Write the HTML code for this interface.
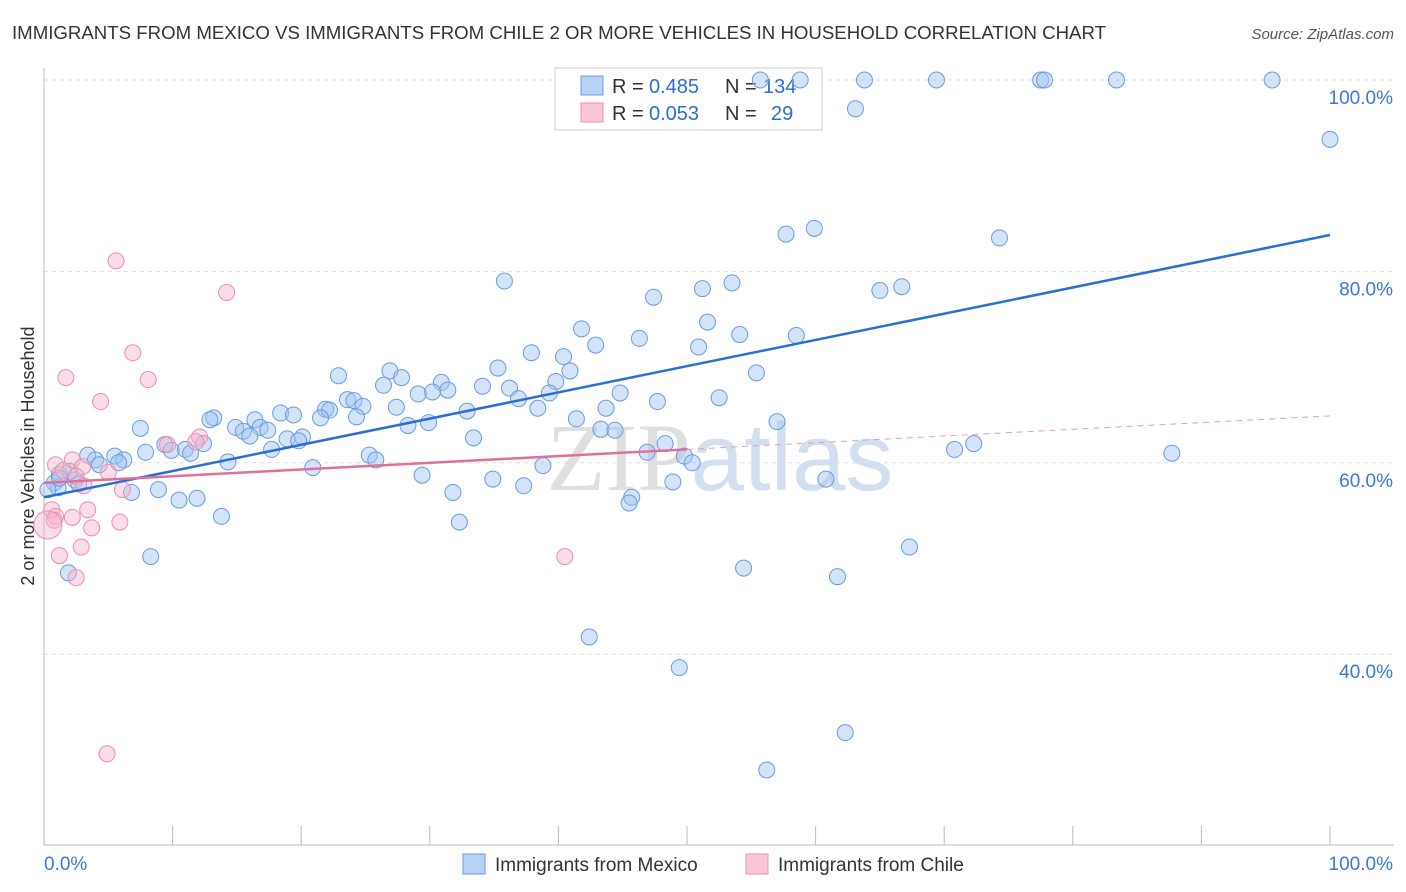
<!DOCTYPE html>
<html><head><meta charset="utf-8"><style>
body{margin:0;background:#fff;font-family:"Liberation Sans",sans-serif;}
#wrap{position:relative;width:1406px;height:892px;overflow:hidden;}
</style></head><body>
<div id="wrap">
<svg id="svg" width="1406" height="892" xmlns="http://www.w3.org/2000/svg" style="position:absolute;left:0;top:0">
<text x="12" y="39" font-size="18" fill="#333" textLength="1094" lengthAdjust="spacingAndGlyphs">IMMIGRANTS FROM MEXICO VS IMMIGRANTS FROM CHILE 2 OR MORE VEHICLES IN HOUSEHOLD CORRELATION CHART</text>
<text x="1394" y="39" font-size="15" fill="#555" font-style="italic" text-anchor="end">Source: ZipAtlas.com</text>
<text x="720" y="490" font-size="96" fill="#d8d8d8" text-anchor="middle" font-family="Liberation Serif" opacity="0.8">ZIP<tspan fill="#c8d8ee" font-family="Liberation Sans">atlas</tspan></text>
<text transform="translate(34,456) rotate(-90)" font-size="18" fill="#333" text-anchor="middle">2 or more Vehicles in Household</text>
<g id="grid"></g><g id="axes"></g>
<g>
<rect x="555" y="68" width="267" height="62" fill="#fff" stroke="#ccc"/>
<rect x="581" y="76" width="22" height="19" fill="#b8d2f4" stroke="#6a9be0"/>
<rect x="581" y="103" width="22" height="19" fill="#f9c6d6" stroke="#e890b0"/>
<text x="612" y="93" font-size="20" fill="#333">R =</text><text x="649" y="93" font-size="20" fill="#2a6fd6">0.485</text>
<text x="725" y="93" font-size="20" fill="#333">N =</text><text x="763" y="93" font-size="20" fill="#2a6fd6">134</text>
<text x="612" y="120" font-size="20" fill="#333">R =</text><text x="649" y="120" font-size="20" fill="#2a6fd6">0.053</text>
<text x="725" y="120" font-size="20" fill="#333">N =</text><text x="771" y="120" font-size="20" fill="#2a6fd6">29</text>
</g>
<g id="marks"></g><g id="trend"></g>
<g>
<rect x="463" y="854" width="22" height="20" fill="#b8d2f4" stroke="#6a9be0"/>
<text x="495" y="871" font-size="19" fill="#333">Immigrants from Mexico</text>
<rect x="746" y="854" width="22" height="20" fill="#f9c6d6" stroke="#e890b0"/>
<text x="778" y="871" font-size="19" fill="#333">Immigrants from Chile</text>
</g>
</svg>
</div>
<script>
const mexX=[55.7,58.8,63.8,69.4,77.5,77.8,83.4,95.5,63.1,100,57.7,59.9,74.3,35.8,47.4,51.2,53.5,65.0,66.7,51.6,41.8,46.3,54.1,58.5,42.9,50.9,37.9,40.4,35.3,26.9,22.9,26.4,27.8,30.9,40.9,55.4,34.1,36.2,31.4,30.2,29.1,39.8,39.3,44.8,23.6,21.9,24.1,24.8,22.2,27.4,36.9,38.4,32.9,43.7,47.7,52.5,18.4,19.4,24.3,21.5,13.2,12.9,16.4,41.4,57.0,28.3,29.9,14.9,16.8,17.4,15.5,16.0,43.3,44.4,7.5,20.1,18.9,19.8,33.4,9.4,9.9,12.4,11.0,11.4,7.9,17.7,48.3,70.8,72.3,87.7,3.4,4.0,5.5,6.2,5.8,4.3,25.3,25.8,14.3,20.9,46.9,49.8,50.4,38.8,29.4,34.9,37.3,48.9,60.8,0.8,1.1,2.4,2.7,1.2,2.0,6.8,8.9,31.8,45.7,45.5,10.5,11.9,13.8,32.3,8.3,67.3,54.4,61.7,1.9,42.4,49.4,62.3,56.2,1.2,0.3];
const mexY=[100,100,100,100,100,100,100,100,97.0,93.8,83.9,84.5,83.5,79.0,77.3,78.2,78.8,78.0,78.4,74.7,74.0,73.0,73.4,73.3,72.3,72.1,71.5,71.1,69.9,69.6,69.1,68.1,68.9,68.4,69.6,69.4,68.0,67.8,67.6,67.4,67.2,68.5,67.3,67.3,66.6,65.6,66.5,65.9,65.5,65.8,66.7,65.7,65.4,65.7,66.4,66.8,65.2,65.0,64.8,64.7,64.7,64.5,64.5,64.6,64.3,63.9,64.2,63.7,63.7,63.4,63.3,62.8,63.5,63.4,63.6,62.7,62.5,62.3,62.6,61.9,61.3,62.0,61.4,61.0,61.1,61.4,62.0,61.4,62.0,61.0,60.8,60.3,60.7,60.3,60.0,59.8,60.8,60.3,60.1,59.5,61.1,60.7,60.0,59.7,58.7,58.3,57.6,58.0,58.3,57.9,57.4,58.2,57.8,58.8,59.1,56.9,57.2,56.9,56.4,55.8,56.1,56.3,54.4,53.8,50.2,51.2,49.0,48.1,48.5,41.8,38.6,31.8,27.9,58.4,57.2];
const chiX=[5.6,14.2,6.9,8.1,1.7,4.4,12.1,11.8,9.6,2.2,0.9,3.0,5.0,1.5,2.5,3.1,6.1,0.6,0.9,2.2,3.4,0.8,3.7,5.9,0.3,1.2,2.9,2.5,40.5,4.9];
const chiY=[81.1,77.8,71.5,68.7,68.9,66.4,62.7,62.2,61.9,60.3,59.8,59.6,59.0,59.2,58.6,57.6,57.2,55.1,54.4,54.3,55.1,54.0,53.2,53.8,53.5,50.3,51.2,48.0,50.2,29.6];
const mexTrend=[56.4,83.8];
const chiTrend=[57.9,64.9];
const yTicks=[40,60,80,100];
const xTicks=[0,10,20,30,40,50,60,70,80,90,100];
const NS="http://www.w3.org/2000/svg";
const sx=v=>44+v*12.86, sy=v=>1037-v*9.57;
function mk(tag,attrs,parent){const e=document.createElementNS(NS,tag);for(const k in attrs)e.setAttribute(k,attrs[k]);document.getElementById(parent).appendChild(e);return e;}
yTicks.forEach(t=>{
 const l=mk('line',{x1:44,x2:1394,y1:sy(t),y2:sy(t),stroke:'#ddd','stroke-dasharray':'4,4'},'grid');
 
 
 const tx=mk('text',{x:1393,y:sy(t)+24,'font-size':19,fill:'#3a78d8','text-anchor':'end'},'axes');
 tx.textContent=t.toFixed(1)+'%';
 
 
});
mk('line',{x1:44,x2:44,y1:68,y2:845,stroke:'#bbb'},'axes');
mk('line',{x1:44,x2:1394,y1:845,y2:845,stroke:'#bbb'},'axes');
xTicks.forEach(t=>{
 const l=mk('line',{x1:sx(t),x2:sx(t),y1:826,y2:845,stroke:'#bbb'},'axes');
 
 
});
[[0,'0.0%','start',44],[100,'100.0%','end',1393]].forEach(a=>{
 const tx=mk('text',{x:a[3],y:870,'font-size':19,fill:'#3a78d8','text-anchor':a[2]},'axes');
 tx.textContent=a[1];
 
 
});
mexX.forEach((x,i)=>{
 const c=mk('circle',{cx:sx(x),cy:sy(mexY[i]),r:8,fill:'rgba(160,195,240,0.45)',stroke:'#6a9be0','stroke-width':1},'marks');
 
 
});
chiX.forEach((x,i)=>{
 const c=mk('circle',{cx:sx(x),cy:sy(chiY[i]),r:(i==24?14:8),fill:'rgba(245,180,205,0.45)',stroke:'#e890b0','stroke-width':1},'marks');
 
 
});
const bl=mk('line',{x1:sx(0),y1:sy(mexTrend[0]),x2:sx(100),y2:sy(mexTrend[1]),stroke:'#2a6fd6','stroke-width':2.5},'trend');


const cy50=chiTrend[0]+(chiTrend[1]-chiTrend[0])*0.5;
const pl=mk('line',{x1:sx(0),y1:sy(chiTrend[0]),x2:sx(50),y2:sy(cy50),stroke:'#e0709a','stroke-width':2.5},'trend');


const pd=mk('line',{x1:sx(50),y1:sy(cy50),x2:sx(100),y2:sy(chiTrend[1]),stroke:'#e0a0b8','stroke-width':1,'stroke-dasharray':'6,5'},'trend');


</script>
</body></html>
